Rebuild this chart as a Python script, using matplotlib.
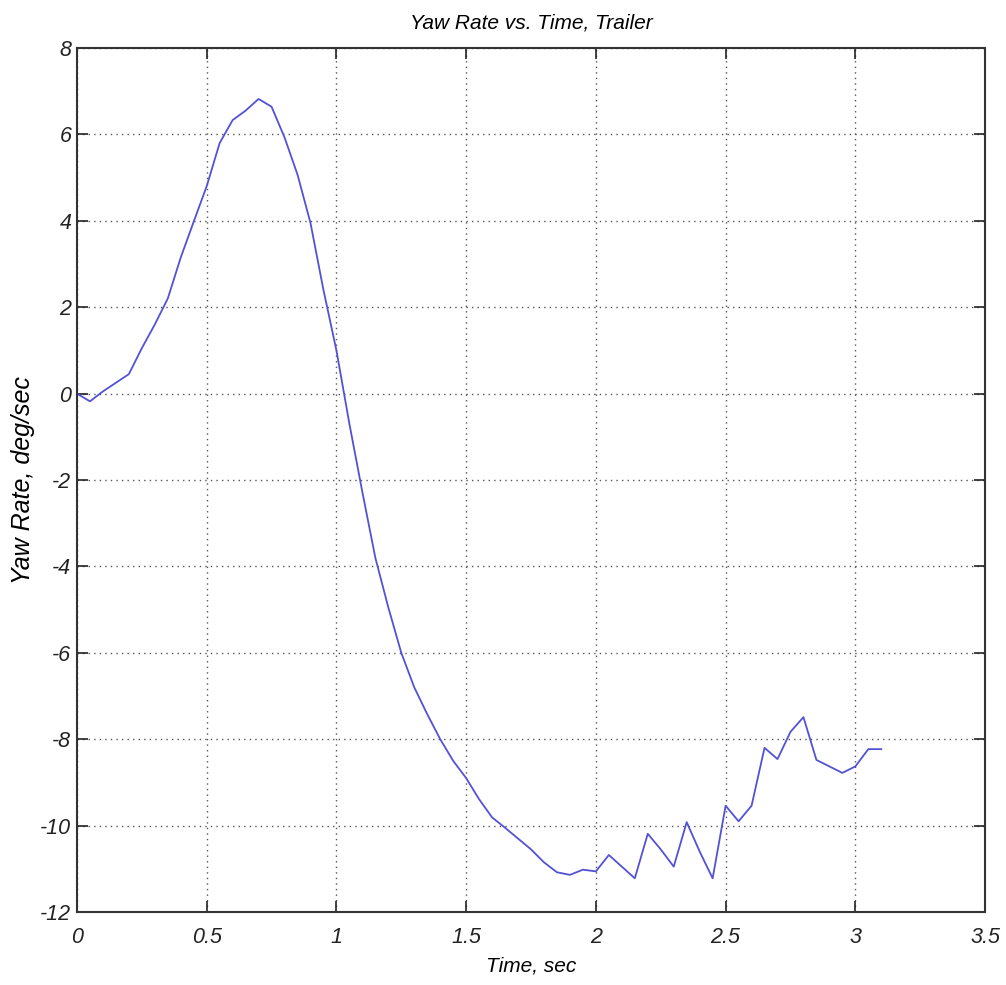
"""Yaw rate of the trailer against time, MATLAB-style line plot."""

import numpy as np
import matplotlib
matplotlib.use("Agg")
import matplotlib.pyplot as plt


# sampled every 0.05 s
time_s = [
    0.00, 0.05, 0.10, 0.15, 0.20, 0.25, 0.30, 0.35, 0.40, 0.45,
    0.50, 0.55, 0.60, 0.65, 0.70, 0.75, 0.80, 0.85, 0.90, 0.95,
    1.00, 1.05, 1.10, 1.15, 1.20, 1.25, 1.30, 1.35, 1.40, 1.45,
    1.50, 1.55, 1.60, 1.65, 1.70, 1.75, 1.80, 1.85, 1.90, 1.95,
    2.00, 2.05, 2.10, 2.15, 2.20, 2.25, 2.30, 2.35, 2.40, 2.45,
    2.50, 2.55, 2.60, 2.65, 2.70, 2.75, 2.80, 2.85, 2.90, 2.95,
    3.00, 3.05, 3.10,
]
yaw_rate = [
    0.00, -0.18, 0.05, 0.25, 0.45, 1.05, 1.60, 2.20, 3.15, 3.98,
    4.80, 5.80, 6.33, 6.55, 6.82, 6.64, 5.93, 5.07, 3.95, 2.40,
    1.00, -0.70, -2.28, -3.80, -4.95, -6.00, -6.80, -7.42, -8.00, -8.50,
    -8.90, -9.39, -9.81, -10.05, -10.30, -10.55, -10.85, -11.08, -11.14, -11.02,
    -11.06, -10.68, -10.95, -11.22, -10.19, -10.55, -10.95, -9.92, -10.60, -11.22,
    -9.54, -9.90, -9.54, -8.20, -8.46, -7.83, -7.49, -8.48, -8.63, -8.78,
    -8.63, -8.23, -8.23,
]

x_ticks = [0, 0.5, 1, 1.5, 2, 2.5, 3, 3.5]
x_tick_labels = ["0", "0.5", "1", "1.5", "2", "2.5", "3", "3.5"]
y_ticks = [-12, -10, -8, -6, -4, -2, 0, 2, 4, 6, 8]

TITLE = "Yaw Rate vs. Time, Trailer"
XLABEL = "Time, sec"
YLABEL = "Yaw Rate, deg/sec"


def main():
    plt.rcParams["font.family"] = ["Liberation Sans", "DejaVu Sans"]
    plt.rcParams["font.style"] = "italic"
    plt.rcParams["axes.unicode_minus"] = False

    fig = plt.figure(figsize=(10.06, 9.85), dpi=100)
    ax = fig.add_axes([0.0765, 0.0741, 0.9027, 0.8772])

    ax.plot(np.array(time_s), np.array(yaw_rate), color="#5252d6", linewidth=1.3)

    ax.set_xlim(0, 3.5)
    ax.set_ylim(-12, 8)
    ax.set_xticks(x_ticks)
    ax.set_xticklabels(x_tick_labels)
    ax.set_yticks(y_ticks)

    ax.grid(True, color="#555555", linestyle=(0, (1, 3)), linewidth=1.0)
    ax.tick_params(direction="in", length=8, width=1.2, top=True, right=True,
                   labelsize=15.5, colors="#222222")
    ax.tick_params(axis="x", pad=11)
    ax.tick_params(axis="y", pad=4)
    for spine in ax.spines.values():
        spine.set_linewidth(1.5)
        spine.set_color("#333333")

    ax.set_title(TITLE, fontsize=15, pad=14)
    ax.set_xlabel(XLABEL, fontsize=15, labelpad=6)
    ax.set_ylabel(YLABEL, fontsize=18, labelpad=4)

    fig.savefig("out.png", dpi=100)
    return fig, ax


if __name__ == "__main__":
    main()
